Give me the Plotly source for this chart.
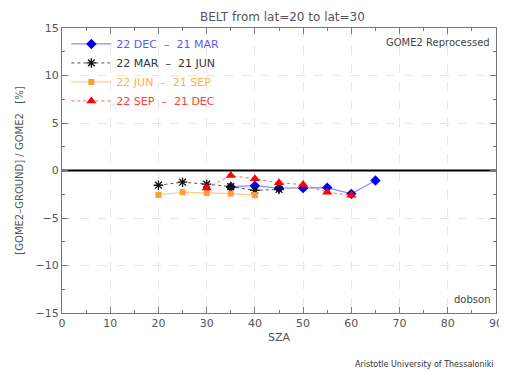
import plotly.graph_objects as go

sza_dec = [35, 40, 45, 50, 55, 60, 65]
val_dec = [-1.73, -1.6, -1.86, -1.86, -1.8, -2.46, -1.05]

sza_mar = [20, 25, 30, 35, 40, 45]
val_mar = [-1.55, -1.23, -1.44, -1.7, -2.08, -2.0]

sza_jun = [20, 25, 30, 35, 40]
val_jun = [-2.57, -2.29, -2.36, -2.43, -2.6]

sza_sep = [30, 35, 40, 45, 50, 55, 60]
val_sep = [-1.83, -0.53, -0.88, -1.3, -1.48, -2.29, -2.6]

names = ["22 DEC  \u2013  21 MAR", "22 MAR  \u2013  21 JUN", "22 JUN  \u2013  21 SEP", "22 SEP  \u2013  21 DEC"]

FONT = "DejaVu Sans"
fig = go.Figure()
fig.add_trace(go.Scatter(x=sza_dec, y=val_dec, mode="lines+markers",
    name=f"<span style='color:#5a5aff'>{names[0]}</span>",
    line=dict(color="#8c8cff", width=1.2),
    marker=dict(symbol="diamond", size=8, color="#0000ee")))
fig.add_trace(go.Scatter(x=sza_mar, y=val_mar, mode="lines+markers",
    name=f"<span style='color:#333333'>{names[1]}</span>",
    line=dict(color="#555555", width=1, dash="dot"),
    marker=dict(symbol="asterisk-open", size=8, color="#111111", line=dict(width=1.3, color="#111111"))))
fig.add_trace(go.Scatter(x=sza_jun, y=val_jun, mode="lines+markers",
    name=f"<span style='color:#ffb04a'>{names[2]}</span>",
    line=dict(color="#ffc88a", width=1.2),
    marker=dict(symbol="square", size=6, color="#ff9e30")))
fig.add_trace(go.Scatter(x=sza_sep, y=val_sep, mode="lines+markers",
    name=f"<span style='color:#ff3b3b'>{names[3]}</span>",
    line=dict(color="#ff6060", width=1, dash="dot"),
    marker=dict(symbol="triangle-up", size=9, color="#ff0000")))

fig.add_shape(type="line", xref="x", yref="y", x0=0, x1=90, y0=0, y1=0,
              line=dict(color="black", width=2), layer="between")

axcommon = dict(showline=True, linecolor="#777777", linewidth=1, mirror="allticks",
                ticks="inside", ticklen=6, tickcolor="#777777", automargin=False,
                showgrid=True, gridcolor="#e6e6e6", griddash="dash", gridwidth=1,
                zeroline=False, tickfont=dict(family=FONT, size=11, color="#555555"))

# page body has an 8px margin; size figure so the plot lands where the reference has it
fig.update_layout(
    width=499, height=364,
    margin=dict(l=54, r=11, t=20, b=59, autoexpand=False),
    paper_bgcolor="white", plot_bgcolor="white",
    title=dict(text="BELT from lat=20 to lat=30", x=0.55, xanchor="center", y=0.986, yanchor="top",
               font=dict(family=FONT, size=12, color="#555555")),
    xaxis=dict(range=[0, 90], dtick=10, tick0=0,
               minor=dict(dtick=5, ticks="inside", ticklen=3, tickcolor="#777777", showgrid=False),
               title=dict(text="SZA", font=dict(family=FONT, size=11, color="#555555"), standoff=4),
               **axcommon),
    yaxis=dict(range=[-15, 15], dtick=5, tick0=0,
               minor=dict(dtick=2.5, ticks="inside", ticklen=3, tickcolor="#777777", showgrid=False),
               title=dict(text="[GOME2\u2013GROUND] / GOME2   [%]", font=dict(family=FONT, size=10, color="#555555"), standoff=10),
               **axcommon),
    legend=dict(x=0.01, y=0.995, xanchor="left", yanchor="top", bgcolor="rgba(0,0,0,0)",
                font=dict(family=FONT, size=11), tracegroupgap=0, itemwidth=40),
    showlegend=True,
    annotations=[
        dict(text="GOME2 Reprocessed", xref="paper", yref="paper", x=0.99, y=0.975,
             xanchor="right", yanchor="top", showarrow=False,
             font=dict(family=FONT, size=10, color="#444444")),
        dict(text="dobson", xref="paper", yref="paper", x=0.99, y=0.02,
             xanchor="right", yanchor="bottom", showarrow=False,
             font=dict(family=FONT, size=10, color="#444444")),
        dict(text="Aristotle University of Thessaloniki", xref="paper", yref="paper", x=1.0, y=-0.179,
             xanchor="right", yanchor="middle", showarrow=False,
             font=dict(family=FONT, size=8, color="#333333")),
    ],
)

fig.write_html("out.html")
